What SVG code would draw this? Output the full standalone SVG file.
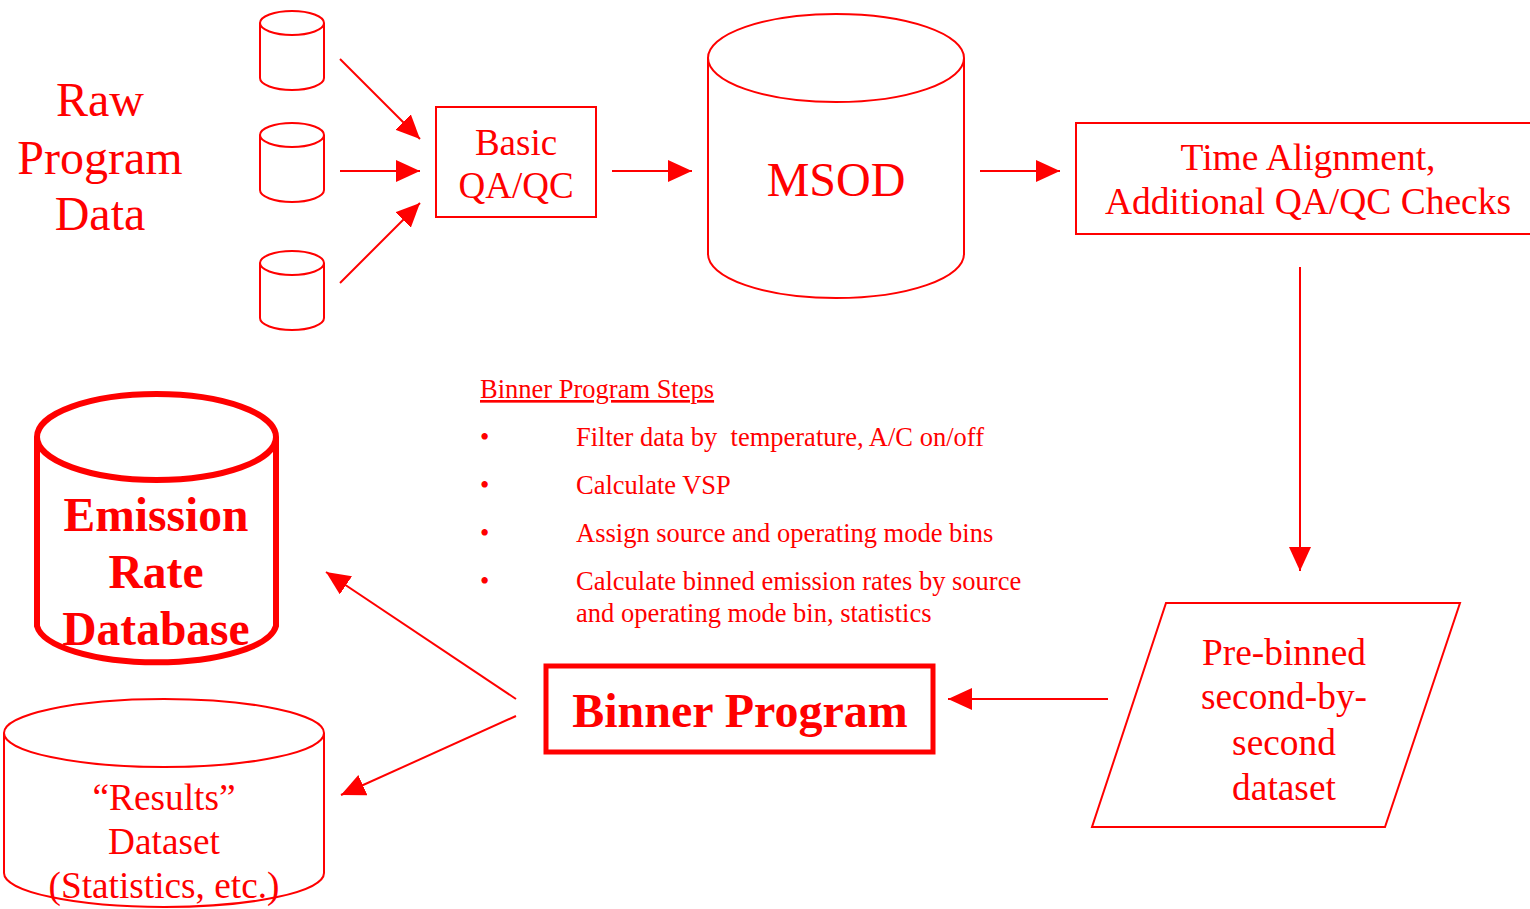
<svg xmlns="http://www.w3.org/2000/svg" width="1530" height="909" viewBox="0 0 1530 909">
<style>
.s{fill:#fff;stroke:#f00;stroke-width:2}
.t{font-family:"Liberation Serif",serif;fill:#f00;text-anchor:middle}
.l{font-family:"Liberation Serif",serif;fill:#f00;font-size:26.5px}
.c{stroke:#f00;stroke-width:2;fill:none;marker-end:url(#ah)}
</style>
<defs>
<marker id="ah" markerUnits="userSpaceOnUse" markerWidth="26" markerHeight="22" refX="24" refY="11" orient="auto">
<path d="M0,0 L24,11 L0,22 Z" fill="#f00"/>
</marker>
</defs>
<g id="rawlabel">
<text class="t" x="100" y="116" font-size="48">Raw</text>
<text class="t" x="100" y="174" font-size="48">Program</text>
<text class="t" x="100" y="230" font-size="48">Data</text>
</g>
<g id="cyl1"><path class="s" d="M260,23 V78 A32,12 0 0 0 324,78 V23"/><ellipse class="s" cx="292" cy="23" rx="32" ry="12"/></g>
<g id="cyl2"><path class="s" d="M260,135 V190 A32,12 0 0 0 324,190 V135"/><ellipse class="s" cx="292" cy="135" rx="32" ry="12"/></g>
<g id="cyl3"><path class="s" d="M260,263 V318 A32,12 0 0 0 324,318 V263"/><ellipse class="s" cx="292" cy="263" rx="32" ry="12"/></g>
<g id="basic">
<rect class="s" x="436" y="107" width="160" height="110"/>
<text class="t" x="516" y="155" font-size="37">Basic</text>
<text class="t" x="516" y="198" font-size="37">QA/QC</text>
</g>
<g id="msod">
<path class="s" d="M708,58 V254 A128,44 0 0 0 964,254 V58"/>
<ellipse class="s" cx="836" cy="58" rx="128" ry="44"/>
<text class="t" x="836" y="196" font-size="48">MSOD</text>
</g>
<g id="time">
<rect class="s" x="1076" y="123" width="460" height="111"/>
<text class="t" x="1308" y="170" font-size="37.5">Time Alignment,</text>
<text class="t" x="1308" y="214" font-size="37.5">Additional QA/QC Checks</text>
</g>
<g id="prebinned">
<polygon class="s" points="1166,603 1460,603 1385,827 1092,827"/>
<text class="t" x="1284" y="665" font-size="37.4">Pre-binned</text>
<text class="t" x="1284" y="709" font-size="37.4">second-by-</text>
<text class="t" x="1284" y="755" font-size="37.4">second</text>
<text class="t" x="1284" y="800" font-size="37.4">dataset</text>
</g>
<g id="binner">
<rect x="546" y="666" width="387" height="86" fill="#fff" stroke="#f00" stroke-width="5"/>
<text class="t" x="740" y="727" font-size="48" font-weight="bold">Binner Program</text>
</g>
<g id="steps">
<text class="l" x="480" y="398" text-decoration="underline">Binner Program Steps</text>
<text class="l" x="480" y="446">•</text><text class="l" x="576" y="446" xml:space="preserve">Filter data by  temperature, A/C on/off</text>
<text class="l" x="480" y="494">•</text><text class="l" x="576" y="494">Calculate VSP</text>
<text class="l" x="480" y="542">•</text><text class="l" x="576" y="542">Assign source and operating mode bins</text>
<text class="l" x="480" y="590">•</text><text class="l" x="576" y="590">Calculate binned emission rates by source</text>
<text class="l" x="576" y="622">and operating mode bin, statistics</text>
</g>
<g id="emission">
<path d="M37,437 V626 A120,40 0 0 0 276,626 V437" fill="#fff" stroke="#f00" stroke-width="6"/>
<ellipse cx="156.5" cy="437" rx="119.5" ry="43" fill="#fff" stroke="#f00" stroke-width="6"/>
<text class="t" x="156" y="531" font-size="47.5" font-weight="bold">Emission</text>
<text class="t" x="156" y="588" font-size="47.5" font-weight="bold">Rate</text>
<text class="t" x="156" y="645" font-size="47.5" font-weight="bold">Database</text>
</g>
<g id="results">
<path class="s" d="M4,733 V873 A160,34 0 0 0 324,873 V733"/>
<ellipse class="s" cx="164" cy="733" rx="160" ry="34"/>
<text class="t" x="164" y="810" font-size="37.3">“Results”</text>
<text class="t" x="164" y="854" font-size="37.3">Dataset</text>
<text class="t" x="164" y="898" font-size="37.3">(Statistics, etc.)</text>
</g>
<g id="connectors">
<line class="c" x1="340" y1="59" x2="420" y2="139"/>
<line class="c" x1="340" y1="171" x2="420" y2="171"/>
<line class="c" x1="340" y1="283" x2="420" y2="203"/>
<line class="c" x1="612" y1="171" x2="692" y2="171"/>
<line class="c" x1="980" y1="171" x2="1060" y2="171"/>
<line class="c" x1="1300" y1="267" x2="1300" y2="571"/>
<line class="c" x1="1108" y1="699" x2="948" y2="699"/>
<line class="c" x1="516" y1="699" x2="326" y2="572"/>
<line class="c" x1="516" y1="716" x2="341" y2="795"/>
</g>
</svg>
